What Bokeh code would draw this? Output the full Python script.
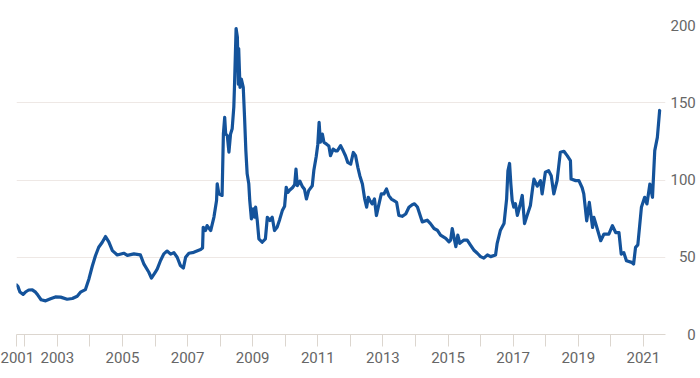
from bokeh.plotting import figure
from bokeh.models import Range1d, FixedTicker
from bokeh.embed import file_html
from bokeh.resources import INLINE

# ---- data (decimal years, index values) ----
years = [
    2001.75, 2001.79, 2001.85, 2001.95, 2002.02, 2002.12, 2002.23, 2002.33, 2002.40, 2002.50,
    2002.64, 2002.79, 2002.94, 2003.10, 2003.30, 2003.46, 2003.61, 2003.71, 2003.86, 2003.97,
    2004.07, 2004.17, 2004.27, 2004.38, 2004.48, 2004.58, 2004.69, 2004.84, 2005.04, 2005.15,
    2005.35, 2005.55, 2005.66, 2005.81, 2005.89, 2006.00, 2006.07, 2006.17, 2006.27, 2006.37,
    2006.48, 2006.58, 2006.68, 2006.78, 2006.87, 2006.94, 2007.04, 2007.19, 2007.40, 2007.46,
    2007.48, 2007.55, 2007.60, 2007.71, 2007.81, 2007.89, 2007.91, 2007.96, 2008.06, 2008.10,
    2008.14, 2008.17, 2008.22, 2008.27, 2008.32, 2008.37, 2008.42, 2008.44, 2008.49, 2008.53,
    2008.56, 2008.57, 2008.61, 2008.65, 2008.71, 2008.75, 2008.79, 2008.83, 2008.88, 2008.91,
    2008.96, 2009.02, 2009.06, 2009.09, 2009.14, 2009.19, 2009.29, 2009.39, 2009.45, 2009.53,
    2009.60, 2009.67, 2009.75, 2009.83, 2009.91, 2009.98, 2010.03, 2010.08, 2010.14, 2010.22,
    2010.29, 2010.33, 2010.37, 2010.45, 2010.52, 2010.59, 2010.65, 2010.72, 2010.83, 2010.88,
    2010.95, 2011.00, 2011.04, 2011.08, 2011.14, 2011.19, 2011.27, 2011.34, 2011.39, 2011.47,
    2011.55, 2011.60, 2011.70, 2011.78, 2011.85, 2011.92, 2012.01, 2012.09, 2012.16, 2012.23,
    2012.29, 2012.37, 2012.44, 2012.50, 2012.55, 2012.60, 2012.67, 2012.74, 2012.80, 2012.88,
    2012.95, 2013.03, 2013.11, 2013.18, 2013.26, 2013.34, 2013.42, 2013.49, 2013.59, 2013.70,
    2013.80, 2013.90, 2013.97, 2014.06, 2014.16, 2014.21, 2014.36, 2014.46, 2014.57, 2014.67,
    2014.77, 2014.93, 2015.03, 2015.08, 2015.13, 2015.18, 2015.24, 2015.30, 2015.36, 2015.49,
    2015.59, 2015.69, 2015.79, 2015.90, 2016.00, 2016.10, 2016.21, 2016.31, 2016.46, 2016.51,
    2016.61, 2016.72, 2016.80, 2016.84, 2016.89, 2016.93, 2016.97, 2017.02, 2017.07, 2017.13,
    2017.21, 2017.28, 2017.35, 2017.43, 2017.53, 2017.60, 2017.64, 2017.74, 2017.84, 2017.89,
    2017.99, 2018.09, 2018.17, 2018.25, 2018.35, 2018.45, 2018.56, 2018.66, 2018.76, 2018.78,
    2018.92, 2019.02, 2019.12, 2019.17, 2019.26, 2019.34, 2019.44, 2019.48, 2019.59, 2019.69,
    2019.79, 2019.94, 2020.05, 2020.15, 2020.25, 2020.32, 2020.40, 2020.48, 2020.64, 2020.70,
    2020.76, 2020.83, 2020.94, 2021.04, 2021.11, 2021.20, 2021.28, 2021.35, 2021.43, 2021.50,
]
values = [
    32.0, 31.0, 27.5, 26.0, 27.5, 28.8, 28.9, 27.4, 25.5, 22.5,
    21.8, 23.1, 24.3, 24.2, 22.8, 23.3, 24.8, 27.4, 29.0, 36.0,
    44.0, 51.0, 56.5, 59.7, 63.4, 60.0, 54.3, 51.5, 52.6, 51.2,
    52.2, 51.5, 45.5, 40.3, 36.5, 40.0, 42.5, 47.9, 52.2, 54.0,
    52.0, 53.0, 50.0, 44.6, 43.0, 50.0, 52.6, 53.2, 55.0, 56.0,
    69.4, 67.3, 70.5, 67.3, 76.0, 86.7, 97.5, 91.0, 90.0, 129.8,
    140.6, 129.8, 128.7, 118.0, 129.8, 133.2, 147.2, 160.0, 198.0, 192.4,
    162.0, 185.0, 160.0, 165.4, 160.0, 140.6, 119.0, 104.0, 97.5, 86.7,
    74.8, 81.3, 75.9, 82.4, 73.8, 61.9, 59.7, 61.9, 75.9, 73.8,
    75.9, 67.3, 69.4, 74.5, 80.2, 83.0, 95.3, 92.0, 93.5, 95.0,
    97.0, 107.1, 96.3, 99.3, 96.0, 94.0, 87.7, 93.1, 96.3, 106.5,
    115.0, 123.0, 137.3, 124.5, 129.7, 124.3, 123.2, 122.0, 115.7, 120.0,
    118.9, 118.9, 122.2, 118.9, 115.7, 111.4, 110.3, 117.8, 115.7, 108.2,
    102.8, 97.4, 87.7, 82.4, 88.8, 86.7, 84.5, 87.7, 77.0, 84.5,
    91.0, 91.0, 94.2, 89.9, 87.7, 86.7, 85.6, 77.0, 76.5, 78.0,
    82.4, 84.0, 84.6, 82.5, 76.0, 72.9, 74.0, 71.8, 68.6, 67.5,
    64.3, 62.2, 60.0, 61.1, 68.6, 63.2, 56.8, 64.3, 59.0, 61.1,
    61.1, 57.9, 54.7, 52.6, 50.4, 49.4, 51.5, 50.4, 51.5, 59.0,
    67.5, 71.8, 87.8, 106.0, 110.7, 97.4, 86.8, 82.5, 84.6, 77.1,
    83.5, 90.0, 71.8, 77.1, 83.5, 95.0, 100.6, 96.0, 99.6, 91.0,
    105.0, 106.0, 102.8, 91.0, 99.6, 118.0, 118.6, 115.8, 112.5, 100.6,
    99.6, 99.6, 95.0, 91.0, 73.6, 85.5, 69.3, 75.8, 68.0, 60.7,
    65.0, 65.0, 70.4, 66.0, 66.0, 52.0, 53.0, 47.7, 46.7, 45.6,
    56.4, 58.0, 82.3, 88.8, 84.5, 97.4, 88.8, 119.0, 127.6, 145.0,
]

x_start, x_end = 2001.745, 2021.68
x_ticks = [x_start] + list(range(2002, 2022))
x_tick_labels = ["2001"] + [str(y) if y % 2 == 1 else "" for y in range(2002, 2022)]
y_ticks = [0, 50, 100, 150, 200]
y_tick_labels = ["0", "50", "100", "150", "200"]

LINE_COLOR = "#14539b"
TEXT_COLOR = "#666666"
GRID_COLOR = "#eee8e5"
AXIS_COLOR = "#dcd6cf"
FONT = "Roboto"
FIG_SPACE = "\u2007"  # digit-wide space, used to right-align the right-hand labels

p = figure(
    frame_width=649, frame_height=309,
    x_range=Range1d(x_start, x_end), y_range=Range1d(0, 200),
    y_axis_location="right",
    output_backend="svg", toolbar_location=None,
    min_border_left=16, min_border_right=33, min_border_top=25, min_border_bottom=38,
)
p.outline_line_color = None
p.background_fill_color = "white"
p.border_fill_color = "white"
p.xgrid.visible = False
p.ygrid.grid_line_color = GRID_COLOR
p.ygrid.grid_line_width = 1

# bottom axis
ax = p.xaxis[0]
ax.ticker = FixedTicker(ticks=x_ticks)
ax.major_label_overrides = {t: lab for t, lab in zip(x_ticks, x_tick_labels)}
ax.axis_line_color = AXIS_COLOR
ax.major_tick_line_color = AXIS_COLOR
ax.minor_tick_line_color = None
ax.major_tick_in = 0
ax.major_tick_out = 12
ax.major_label_standoff = 5
ax.major_label_text_font = FONT
ax.major_label_text_font_size = "15px"
ax.major_label_text_color = TEXT_COLOR

# right axis
ay = p.yaxis[0]
ay.ticker = FixedTicker(ticks=y_ticks)
width = max(len(s) for s in y_tick_labels)
ay.major_label_overrides = {t: FIG_SPACE * (width - len(lab)) + lab for t, lab in zip(y_ticks, y_tick_labels)}
ay.axis_line_color = None
ay.major_tick_line_color = None
ay.minor_tick_line_color = None
ay.major_tick_in = 0
ay.major_tick_out = 0
ay.major_label_standoff = 5
ay.major_label_text_font = FONT
ay.major_label_text_font_size = "15px"
ay.major_label_text_color = TEXT_COLOR

p.line(years, values, line_color=LINE_COLOR, line_width=3.2, line_join="round", line_cap="round")

open("out.html", "w").write(file_html(p, INLINE))
